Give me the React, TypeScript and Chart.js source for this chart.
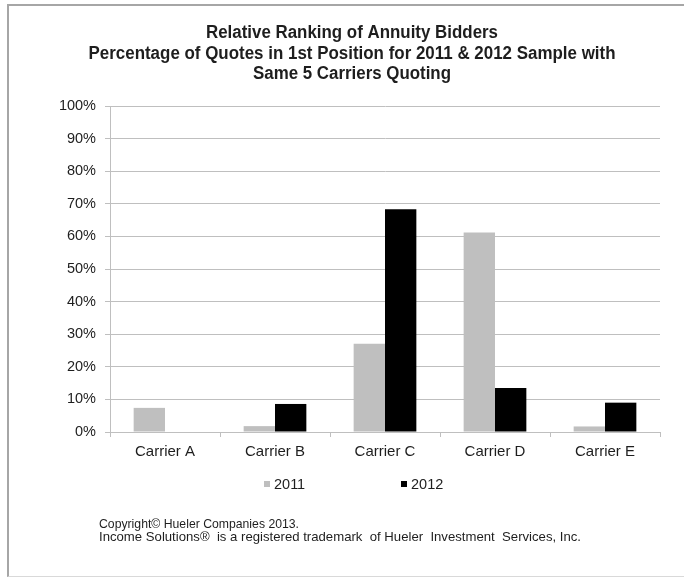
import React, { useEffect, useRef } from "react";
import { Chart, registerables } from "chart.js";

Chart.register(...registerables);

const titleLines = [
  "Relative Ranking of Annuity Bidders",
  "Percentage of Quotes in 1st Position for 2011 & 2012 Sample with",
  "Same 5 Carriers Quoting",
];
const categories = ["Carrier A", "Carrier B", "Carrier C", "Carrier D", "Carrier E"];
const seriesLabels = ["2011", "2012"];
const values2011 = [7.4, 1.8, 27.1, 61.2, 1.7];
const values2012 = [0, 8.6, 68.3, 13.5, 9.0];
const footerLines = [
  "Copyright\u00A9 Hueler Companies 2013.",
  "Income Solutions\u00AE  is a registered trademark  of Hueler  Investment  Services, Inc.",
];

const FONT = "'Liberation Sans', Arial, sans-serif";
const TEXT = "#1e1e1e";

const decorPlugin = {
  id: "decor",
  afterDraw(chart: any) {
    const ctx = chart.ctx;
    ctx.save();
    // title
    ctx.fillStyle = TEXT;
    ctx.textAlign = "center";
    ctx.textBaseline = "alphabetic";
    ctx.font = `bold 18px ${FONT}`;
    const ty = [38, 58.5, 79];
    const tw = [292, 527, 198];
    titleLines.forEach((t, i) => ctx.fillText(t, 352, ty[i], tw[i]));
    // legend
    ctx.font = `14.5px ${FONT}`;
    ctx.textAlign = "left";
    ctx.textBaseline = "middle";
    const lx = [264, 401];
    chart.data.datasets.forEach((ds: any, i: number) => {
      ctx.fillStyle = ds.backgroundColor;
      ctx.fillRect(lx[i], 481, 6, 6);
      ctx.fillStyle = TEXT;
      ctx.fillText(ds.label, lx[i] + 10, 485);
    });
    // footer
    ctx.font = `13.5px ${FONT}`;
    ctx.textBaseline = "alphabetic";
    ctx.fillStyle = TEXT;
    const fy = [528, 541];
    const fw = [200, 482];
    footerLines.forEach((t, i) => ctx.fillText(t, 99, fy[i], fw[i]));
    ctx.restore();
  },
};

export default function App() {
  const ref = useRef<HTMLCanvasElement>(null);
  useEffect(() => {
    document.body.style.margin = "0";
    const chart = new Chart(ref.current!, {
      type: "bar",
      data: {
        labels: categories,
        datasets: [
          { label: seriesLabels[0], data: values2011, backgroundColor: "#bfbfbf" },
          { label: seriesLabels[1], data: values2012, backgroundColor: "#000000" },
        ],
      },
      options: {
        animation: false,
        responsive: false,
        maintainAspectRatio: false,
        layout: { padding: { top: 106, right: 24, bottom: 106, left: 0 } },
        plugins: { legend: { display: false }, title: { display: false }, tooltip: { enabled: false } },
        datasets: { bar: { categoryPercentage: 0.57, barPercentage: 1 } },
        scales: {
          x: {
            afterFit: (s: any) => { s.height = 40; },
            grid: { offset: true, drawOnChartArea: false, drawTicks: true, tickLength: 5, color: "#bfbfbf" },
            border: { color: "#bfbfbf" },
            ticks: { color: TEXT, font: { family: FONT, size: 15 }, padding: 6 },
          },
          y: {
            min: 0,
            max: 100,
            afterFit: (s: any) => { s.width = 110; },
            grid: { color: "#bfbfbf", tickLength: 5 },
            border: { color: "#bfbfbf" },
            ticks: {
              stepSize: 10,
              color: TEXT,
              padding: 9,
              font: { family: FONT, size: 14.5 },
              callback: (v: any) => `${v}%`,
            },
          },
        },
      },
      plugins: [decorPlugin],
    });
    return () => chart.destroy();
  }, []);
  return (
    <div style={{ position: "relative", width: 684, height: 578, background: "#fff", overflow: "hidden" }}>
      <div style={{ position: "absolute", left: 7, top: 4, width: 700, height: 573, borderLeft: "2px solid #a6a6a6", borderTop: "2px solid #a6a6a6", borderBottom: "1px solid #d9d9d9", boxSizing: "border-box" }} />
      <canvas ref={ref} width={684} height={578} style={{ position: "absolute", left: 0, top: 0 }} />
    </div>
  );
}
